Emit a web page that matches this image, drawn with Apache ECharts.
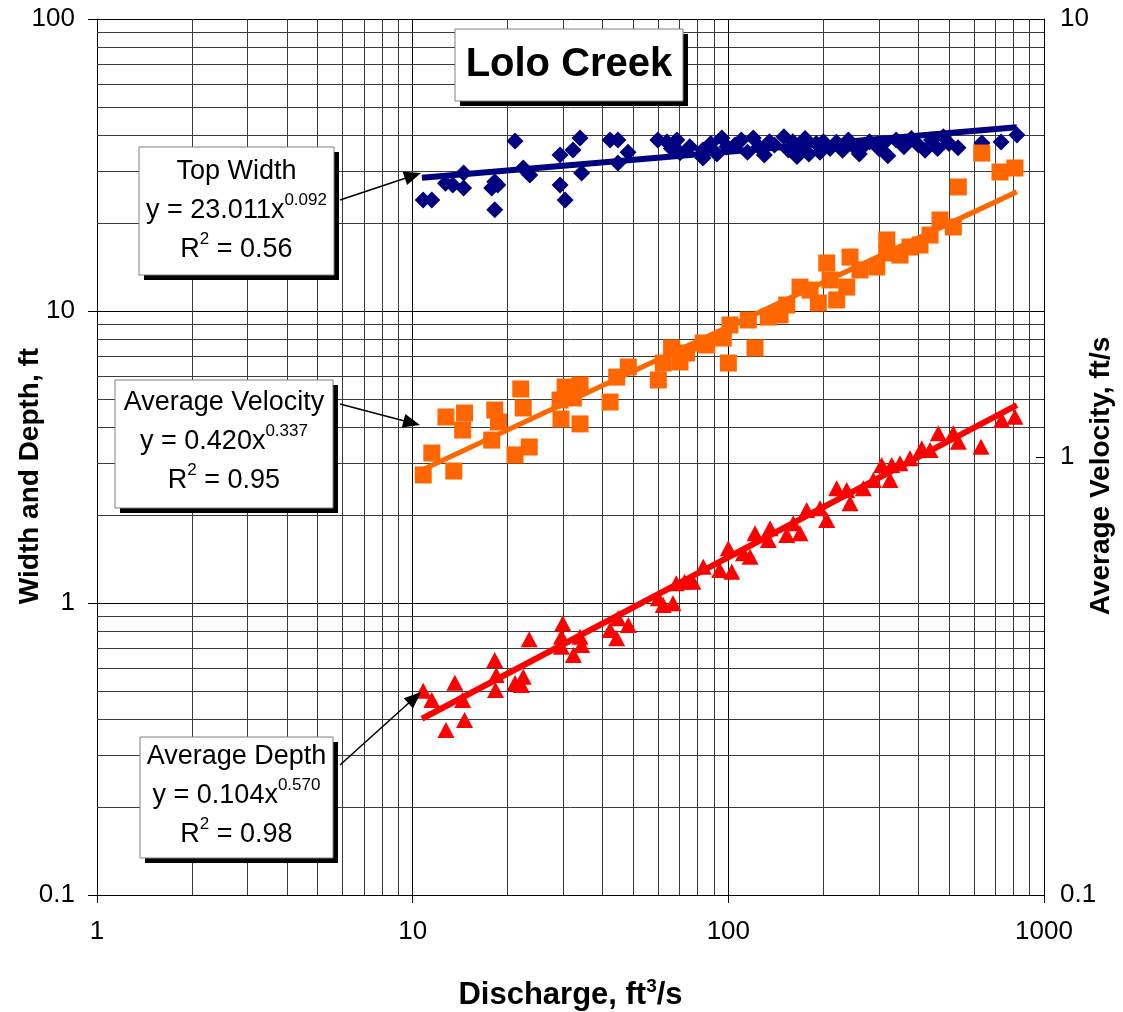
<!DOCTYPE html>
<html><head><meta charset="utf-8">
<script src="https://cdn.jsdelivr.net/npm/echarts@6/dist/echarts.min.js"></script>
<style>html,body{margin:0;padding:0;background:#fff}#c{width:1123px;height:1012px}</style>
</head><body><div id="c"></div>
<script>
const FONT = '"Liberation Sans", Arial, sans-serif';

// ---- Top Width (ft) vs discharge (ft3/s) ----
const widthQ  = [10.8,11.5,12.7,13.4,14.5,14.5,17.8,18.2,18.2,18.6,21.1,22.4,23.5,29.3,29.3,30.4,32.2,33.9,34.3,42.2,44.7,44.7,48.1,59.8,63.9,66,68.7,70.3,75.5,83.1,83.1,88,92,95.4,99.0,
  105,110,115,120,125,130,135,140,150,155,160,165,170,175,180,190,195,200,210,220,230,240,250,260,270,280,300,310,320,340,360,380,400,420,440,460,480,500,534,636,731,821];
const widthFt = [24.0,24.0,27.4,27.0,29.7,26.4,26.4,27.7,22.2,27.0,38.2,30.9,29.2,34.2,27.0,24.0,35.6,39.1,29.7,38.5,38.5,32.1,35.0,38.5,37.9,36.0,38.5,34.8,36.5,35.6,33.4,37.5,34.5,39.1,36.5,
  37.0,38.5,35.0,39.1,36.5,34.2,38.0,37.0,39.5,35.6,38.0,33.8,36.5,39.0,34.5,37.5,35.0,38.0,36.0,37.8,35.5,38.5,36.5,34.5,37.0,38.0,36.0,37.5,34.0,38.5,36.5,39.0,37.0,35.5,38.5,36.0,39.5,37.5,36.2,37.6,37.9,40.1];

// ---- Average Velocity (ft/s) ----
const velQ  = [10.8,11.5,12.75,13.5,14.6,14.4,18.2,18.7,17.8,21.1,23.4,22.0,22.4,29.3,30.4,33.9,32.3,29.5,33.9,42.2,44.3,48.2,60.0,62.2,66.1,70.3,73.8,83.3,85.4,96.4,100,
  101.2,115.7,121.5,133.9,145.8,153.1,168.7,181.5,192.8,205,210,220.4,237.2,243,261.3,295.2,317.6,317.6,349.9,376.3,404.9,435.5,468.4,516.1,535.3,634.9,725.4,809];
const velFps = [0.910,1.021,1.234,0.929,1.260,1.152,1.280,1.202,1.093,1.011,1.054,1.430,1.294,1.349,1.445,1.460,1.364,1.221,1.190,1.335,1.522,1.605,1.499,1.639,1.774,1.648,1.728,1.821,1.802,1.869,1.639,
  2.002,2.055,1.774,2.087,2.110,2.223,2.443,2.405,2.247,2.773,2.536,2.283,2.443,2.861,2.673,2.715,3.130,2.922,2.891,3.016,3.048,3.212,3.476,3.351,4.135,4.943,4.474,4.569];

// ---- Average Depth (ft) ----
const depthQ  = [10.8,11.5,13.6,14.4,12.75,14.6,18.2,18.3,18.4,21.1,22.1,22.4,23.4,29.9,29.6,29.6,32.3,33.9,34.3,42.2,44.3,44.7,48.2,60.0,62.2,66.8,68.4,72.7,77.2,83.3,93.9,
  100,102.5,111.6,117.2,121.5,133.9,135.6,153.1,160.6,168.7,177.1,195.2,205,220.4,237.2,243,267.7,288,306.1,329.4,325.3,349.9,376.3,410,435.5,462.7,516.1,535.3,631.6,734.5,809];
const depthFt = [0.501,0.4655,0.533,0.4655,0.367,0.3975,0.638,0.504,0.567,0.532,0.524,0.559,0.751,0.852,0.767,0.708,0.664,0.767,0.718,0.808,0.757,0.886,0.841,1.038,0.984,0.999,1.168,1.183,1.183,1.331,1.297,
  1.539,1.280,1.480,1.440,1.733,1.643,1.803,1.710,1.875,1.733,2.083,2.110,1.924,2.471,2.438,2.195,2.471,2.638,2.969,2.969,2.638,3.009,3.130,3.387,3.342,3.813,3.813,3.568,3.430,4.233,4.345];

// ---- Power-law trend lines (end points) ----
const trendQ     = [10.7, 820];
const widthTrend = [28.6, 42.6];
const velTrend   = [0.934, 4.03];
const depthTrend = [0.4015, 4.763];

// ---- minor grid values ----
const minorX = [2,3,4,5,6,7,8,9,20,30,40,50,60,70,80,90,200,300,400,500,600,700,800,900];
const minorY = [0.2,0.3,0.4,0.5,0.6,0.7,0.8,0.9,2,3,4,5,6,7,8,9,20,30,40,50,60,70,80,90];

function pairs(xs, ys) { return xs.map((x, i) => [x, ys[i]]); }

function arrow(sx, sy, tx, ty) {
  const dx = tx - sx, dy = ty - sy, L = Math.hypot(dx, dy), ux = dx / L, uy = dy / L;
  const hl = 17, hw = 7, bx = tx - ux * hl, by = ty - uy * hl;
  return [
    {type: 'line', shape: {x1: sx, y1: sy, x2: bx + ux * 2, y2: by + uy * 2}, style: {stroke: '#000', lineWidth: 1.5}, z: 100},
    {type: 'polygon', shape: {points: [[tx, ty], [bx - uy * hw, by + ux * hw], [bx + uy * hw, by - ux * hw]]}, style: {fill: '#000'}, z: 100}
  ];
}
function box(x, y, w, h, shadow) {
  return [
    {type: 'rect', shape: {x: x + shadow, y: y + shadow, width: w, height: h}, style: {fill: '#000'}, z: 100},
    {type: 'rect', shape: {x: x, y: y, width: w, height: h}, style: {fill: '#fff', stroke: '#7f7f7f', lineWidth: 1}, z: 101}
  ];
}
const rich = {
  t: {fontSize: 27, fontFamily: FONT, lineHeight: 39, color: '#000'},
  s: {fontSize: 17, fontFamily: FONT, lineHeight: 17, verticalAlign: 'top', color: '#000'}
};
function label(cx, cy, text) {
  return {type: 'text', x: cx, y: cy, z: 102, style: {text: text, rich: rich, align: 'center', verticalAlign: 'middle', fill: '#000'}};
}
function vTitle(cx, cy, text) {
  return {type: 'text', x: cx, y: cy, rotation: Math.PI / 2, z: 102,
    style: {text: text, font: 'bold 28px ' + FONT, fill: '#000', align: 'center', verticalAlign: 'middle'}};
}
function fmt(v) { return String(+(+v).toPrecision(6)); }

const chart = echarts.init(document.getElementById('c'), null, {renderer: 'canvas'});

const axisLab = {fontSize: 26, fontFamily: FONT, color: '#000', formatter: fmt};
const option = {
  animation: false,
  backgroundColor: '#fff',
  grid: {left: 97, right: 79, top: 19, bottom: 117, containLabel: false, outerBoundsMode: 'none'},
  xAxis: {
    type: 'log', logBase: 10, min: 1, max: 1000,
    name: '{a|Discharge, ft}{s|3}{a|/s}', nameLocation: 'middle', nameGap: 82,
    nameTextStyle: {rich: {
      a: {fontSize: 31, fontWeight: 'bold', fontFamily: FONT, color: '#000', lineHeight: 36},
      s: {fontSize: 19, fontWeight: 'bold', fontFamily: FONT, color: '#000', lineHeight: 19, verticalAlign: 'top'}}},
    axisLine: {show: true, lineStyle: {color: '#000', width: 1}},
    axisTick: {show: true, length: 8, lineStyle: {color: '#000'}},
    axisLabel: Object.assign({margin: 24}, axisLab),
    splitLine: {show: true, lineStyle: {color: '#000', width: 1}},
    minorTick: {show: false}, minorSplitLine: {show: false}
  },
  yAxis: [
    {
      type: 'log', logBase: 10, min: 0.1, max: 100, position: 'left',
      axisLine: {show: true, lineStyle: {color: '#000', width: 1}},
      axisTick: {show: true, length: 9, lineStyle: {color: '#000'}},
      axisLabel: Object.assign({margin: 22}, axisLab),
      splitLine: {show: true, lineStyle: {color: '#000', width: 1}}
    },
    {
      type: 'log', logBase: 10, min: 0.1, max: 10, position: 'right',
      axisLine: {show: true, lineStyle: {color: '#000', width: 1}},
      axisTick: {show: true, inside: true, length: 8, lineStyle: {color: '#000'}},
      axisLabel: Object.assign({margin: 16}, axisLab),
      splitLine: {show: false}
    }
  ],
  series: [
    {
      name: 'Top Width', type: 'scatter', symbol: 'diamond', symbolSize: 17, z: 3,
      itemStyle: {color: '#000080', opacity: 1}, data: pairs(widthQ, widthFt),
      markLine: {
        silent: true, symbol: 'none', z: 1, label: {show: false}, animation: false,
        lineStyle: {color: '#3a3a3a', width: 1, type: 'solid'},
        emphasis: {disabled: true},
        data: minorX.map(v => ({xAxis: v})).concat(minorY.map(v => ({yAxis: v})))
      }
    },
    {
      name: 'Average Velocity', type: 'scatter', symbol: 'rect', symbolSize: 17, yAxisIndex: 1, z: 4,
      itemStyle: {color: '#FF6600', opacity: 1}, data: pairs(velQ, velFps)
    },
    {
      name: 'Average Depth', type: 'scatter', symbol: 'triangle', symbolSize: [17, 16], z: 4,
      itemStyle: {color: '#FF0000', opacity: 1}, data: pairs(depthQ, depthFt)
    },
    {name: 'Top Width trend', type: 'line', symbol: 'none', z: 5, data: pairs(trendQ, widthTrend), lineStyle: {color: '#000080', width: 6}},
    {name: 'Velocity trend', type: 'line', symbol: 'none', z: 5, yAxisIndex: 1, data: pairs(trendQ, velTrend), lineStyle: {color: '#FF6600', width: 5}},
    {name: 'Depth trend', type: 'line', symbol: 'none', z: 5, data: pairs(trendQ, depthTrend), lineStyle: {color: '#FF0000', width: 6}}
  ],
  graphic: [].concat(
    [vTitle(30, 476, 'Width and Depth, ft'), {type: 'text', x: 1101, y: 476, rotation: Math.PI / 2, z: 102,
      style: {text: 'Average Velocity, ft/s', font: 'bold 28px ' + FONT, fill: '#000', align: 'center', verticalAlign: 'middle'}}],
    box(455, 29, 228, 72, 5),
    [{type: 'text', x: 569, y: 65, z: 102, style: {text: 'Lolo Creek', font: 'bold 40px ' + FONT, fill: '#000', align: 'center', verticalAlign: 'middle'}}],
    box(139, 147, 195, 128, 5),
    [label(236.5, 211, '{t|Top Width}\n{t|y = 23.011x}{s|0.092}\n{t|R}{s|2}{t| = 0.56}')],
    arrow(340, 200, 421, 173),
    box(115, 380, 218, 128, 5),
    [label(224, 442, '{t|Average Velocity}\n{t|y = 0.420x}{s|0.337}\n{t|R}{s|2}{t| = 0.95}')],
    arrow(340, 404, 420, 425),
    box(140, 737, 193, 121, 5),
    [label(236.5, 796, '{t|Average Depth}\n{t|y = 0.104x}{s|0.570}\n{t|R}{s|2}{t| = 0.98}')],
    arrow(340, 765, 421, 692)
  )
};
chart.setOption(option);
</script>
</body></html>
